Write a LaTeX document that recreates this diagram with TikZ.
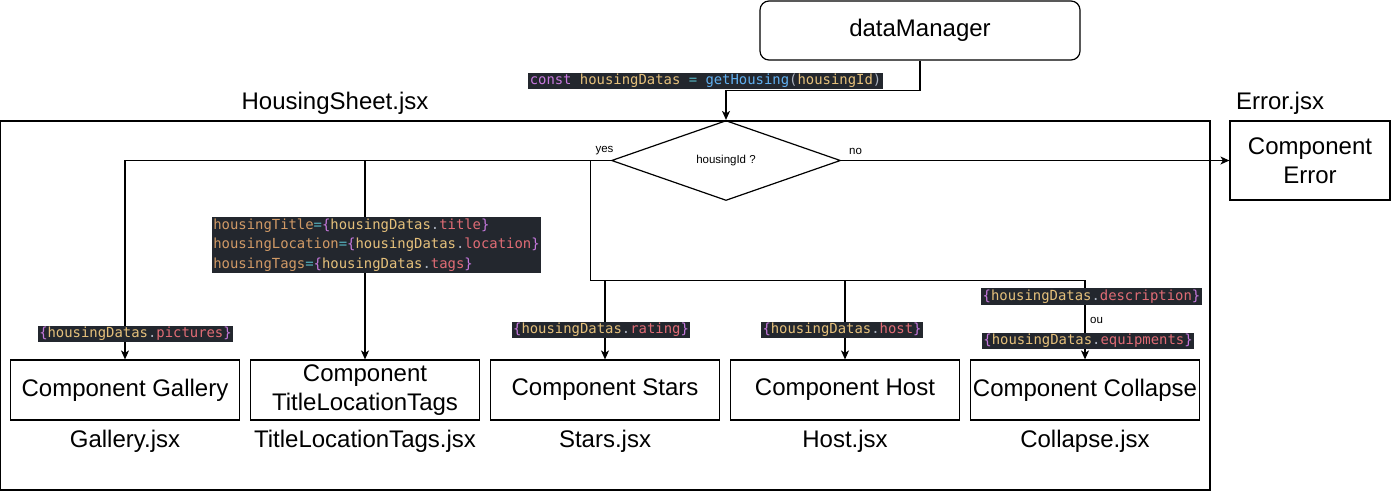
\documentclass[tikz,border=0pt]{standalone}
\usepackage{fontspec}
\usepackage{xcolor}
\usepackage{tikz}
\usetikzlibrary{shapes,arrows.meta,positioning,calc}
\setmainfont{Liberation Sans}
\newfontfamily\codefont{DejaVu Sans Mono}

\definecolor{codeBg}{HTML}{23272E}
\definecolor{codePurple}{HTML}{C678DD}
\definecolor{codeGold}{HTML}{E5C07B}
\definecolor{codeOrange}{HTML}{D19A66}
\definecolor{codeRed}{HTML}{E06C75}
\definecolor{codeCyan}{HTML}{56B6C2}
\definecolor{codeBlue}{HTML}{61AFEF}
\definecolor{codeGray}{HTML}{ABB2BF}

\newcommand{\hdField}[1]{\textcolor{codePurple}{\{}\textcolor{codeGold}{housingDatas}.\textcolor{codeRed}{#1}\textcolor{codePurple}{\}}}

\begin{document}
\begin{tikzpicture}[
    x=1pt, y=-1pt,
    font=\fontsize{24}{28.5}\selectfont,
    box/.style={rectangle, draw, line width=1.2pt, minimum width=229pt, minimum height=60pt, align=center, inner sep=2pt},
    frame/.style={rectangle, draw, line width=1.2pt, minimum width=1209.4pt, minimum height=369pt},
    decision/.style={diamond, draw, line width=1.2pt, minimum width=229pt, minimum height=80pt, inner sep=0pt, font=\fontsize{11.5}{13}\selectfont},
    code/.style={fill=codeBg, text=codeGray, inner sep=1.6pt, align=left, font=\codefont\fontsize{13.9}{19.5}\selectfont},
    small/.style={inner sep=1pt, font=\fontsize{11.5}{13}\selectfont},
    file/.style={inner sep=3pt},
    arrow/.style={-{Stealth[length=9pt,width=8pt,inset=2.5pt]}, line width=1.2pt},
    link/.style={line width=1.2pt}
]
\useasboundingbox (0,0) rectangle (1391,491);

% Frame and top nodes
\node[frame] (sheet) at (605.3,305.5) {};
\node[file] at (335,103) {HousingSheet.jsx};
\node[box, rounded corners=9pt, minimum width=320pt, minimum height=59pt] (dm) at (920,30.5) {dataManager};
\node[decision] (check) at (726,160.5) {housingId ?};

% Error component outside the sheet
\node[box, minimum width=160pt, minimum height=79pt] (err) at (1310,160.5) {Component\\Error};
\node[file] (errjsx) at (1280,103) {Error.jsx};

% Components in a row at the bottom
\node[box] (gallery) at (125,390) {Component Gallery};
\node[box, right=9.8pt of gallery] (tlt) {Component\\TitleLocationTags};
\node[box, right=9.8pt of tlt] (stars) {Component Stars};
\node[box, right=9.8pt of stars] (host) {Component Host};
\node[box, right=9.8pt of host] (collapse) {Component Collapse};

% File names below the components
\node[file, below=6pt of gallery] (galleryjsx) {Gallery.jsx};
\node[file, below=6pt of tlt] (tltjsx) {TitleLocationTags.jsx};
\node[file, below=6pt of stars] (starsjsx) {Stars.jsx};
\node[file, below=6pt of host] (hostjsx) {Host.jsx};
\node[file, below=6pt of collapse] (collapsejsx) {Collapse.jsx};

% Edge from dataManager to the check
\draw[arrow] (dm.south) -- ++(0,30) -| (check.north);

% yes / no edges
\coordinate (fork) at ($(check.west)+(-20.7,0)$);
\coordinate (bus) at ($(fork)+(0,120)$);
\draw[arrow] (check.west) -| (gallery.north);
\draw[arrow] (check.west) -| (tlt.north);
\draw[link] (fork) -- (bus);
\draw[arrow] (bus) -| (stars.north);
\draw[arrow] (bus) -| (host.north);
\draw[arrow] (bus) -| (collapse.north);
\draw[arrow] (check.east) -- (err.west);

\node[small] (yes) at (604.5,151) {yes};
\node[small] (no) at (855.5,151) {no};
\node[small] (ou) at (1096.5,320) {ou};

% Props passed along the edges
\node[code] (call) at (705.5,81) {\textcolor{codePurple}{const} \textcolor{codeGold}{housingDatas} \textcolor{codeCyan}{=} \textcolor{codeBlue}{getHousing}(\textcolor{codeGold}{housingId})};
\node[code] (tltprops) at (376.5,245) {\textcolor{codeOrange}{housingTitle}\textcolor{codeCyan}{=}\hdField{title}\\
\textcolor{codeOrange}{housingLocation}\textcolor{codeCyan}{=}\hdField{location}\\
\textcolor{codeOrange}{housingTags}\textcolor{codeCyan}{=}\hdField{tags}};
\node[code] (pictures) at (135.5,334) {\hdField{pictures}};
\node[code] (rating) at (601,330) {\hdField{rating}};
\node[code] (hostprop) at (842,330) {\hdField{host}};
\node[code] (description) at (1091.5,296.5) {\hdField{description}};
\node[code] (equipments) at (1088,341) {\hdField{equipments}};

\end{tikzpicture}
\end{document}
